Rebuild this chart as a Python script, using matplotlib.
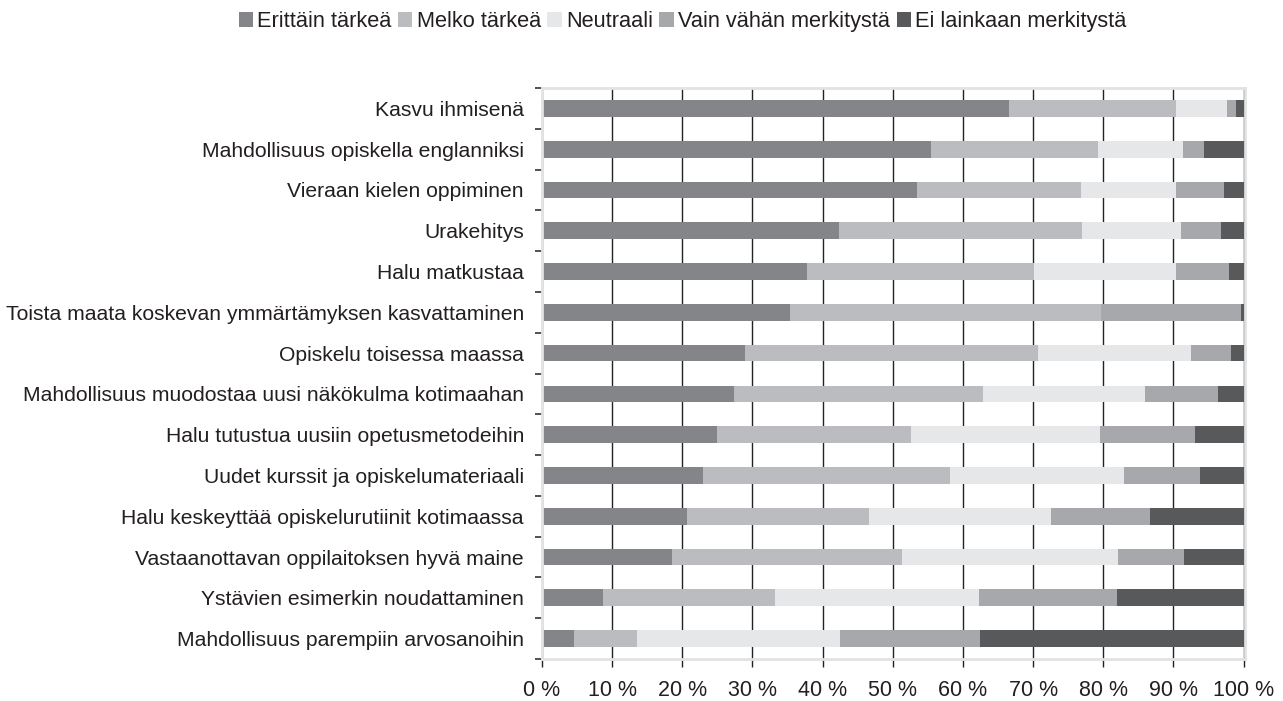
import numpy as np
import matplotlib
matplotlib.use('Agg')
import matplotlib.pyplot as plt
from matplotlib import font_manager

names = set(f.name for f in font_manager.fontManager.ttflist)
if 'Liberation Sans Narrow' in names:
    plt.rcParams['font.family'] = 'Liberation Sans Narrow'
else:
    plt.rcParams['font.family'] = 'Liberation Sans'

categories = ['Kasvu ihmisenä',
              'Mahdollisuus opiskella englanniksi',
              'Vieraan kielen oppiminen',
              'Urakehitys',
              'Halu matkustaa',
              'Toista maata koskevan ymmärtämyksen kasvattaminen',
              'Opiskelu toisessa maassa',
              'Mahdollisuus muodostaa uusi näkökulma kotimaahan',
              'Halu tutustua uusiin opetusmetodeihin',
              'Uudet kurssit ja opiskelumateriaali',
              'Halu keskeyttää opiskelurutiinit kotimaassa',
              'Vastaanottavan oppilaitoksen hyvä maine',
              'Ystävien esimerkin noudattaminen',
              'Mahdollisuus parempiin arvosanoihin']

series = ['Erittäin tärkeä', 'Melko tärkeä', 'Neutraali',
          'Vain vähän merkitystä', 'Ei lainkaan merkitystä']

erittain = [66.6, 55.4, 53.4, 42.4, 37.8, 35.4, 29.0, 27.4, 25.0, 23.0, 20.7, 18.5, 8.7, 4.6]
melko = [23.7, 23.9, 23.4, 34.5, 32.3, 44.3, 41.7, 35.5, 27.6, 35.1, 25.9, 32.8, 24.5, 9.0]
neutraali = [7.3, 12.1, 13.5, 14.2, 20.2, 0.0, 21.8, 23.1, 26.9, 24.8, 26.0, 30.8, 29.1, 28.9]
vain_vahan = [1.3, 3.0, 6.9, 5.7, 7.6, 19.9, 5.7, 10.4, 13.6, 10.9, 14.1, 9.4, 19.6, 19.9]
ei_lainkaan = [1.1, 5.6, 2.8, 3.2, 2.1, 0.4, 1.8, 3.6, 6.9, 6.2, 13.3, 8.5, 18.1, 37.6]

colors = ['#848589', '#bbbcbf', '#e6e7e8', '#a7a8ab', '#58595b']
text_color = '#231f20'

values = np.array([erittain, melko, neutraali, vain_vahan, ei_lainkaan])
y = np.arange(len(categories))

fig = plt.figure(figsize=(12.83, 7.01), dpi=100)
ax = fig.add_axes([542/1283, 1 - 659/701, 703/1283, 571/701])

left = np.zeros(len(categories))
for vals, name, c in zip(values, series, colors):
    ax.barh(y, vals, left=left, height=0.41, color=c, label=name, zorder=2)
    left += vals

ax.set_xlim(0, 100.2)
ax.set_ylim(len(categories) - 0.5, -0.5)
ax.set_xticks(np.arange(0, 101, 10))
ax.set_xticklabels(['{} %'.format(t) for t in range(0, 101, 10)])
ax.set_yticks(y)
ax.set_yticklabels(categories)
ax.set_yticks(np.arange(-0.5, len(categories), 1), minor=True)
ax.tick_params(axis='y', which='major', length=0, pad=13, labelsize=15.2, labelcolor=text_color)
ax.tick_params(axis='y', which='minor', length=5, width=1.2, color='#333333')
ax.tick_params(axis='x', length=6, width=1, color='#222222', pad=9, labelsize=15.5, labelcolor=text_color)
ax.grid(axis='x', color='#222222', linewidth=1, zorder=1)
ax.set_axisbelow(True)
for s in ax.spines.values():
    s.set_color('#e2e2e2')
    s.set_linewidth(2)

fig.legend(loc='upper center', bbox_to_anchor=(0.532, 1.012), ncol=5, frameon=False,
           fontsize=15.7, handlelength=0.65, handleheight=0.65, handletextpad=0.2,
           columnspacing=0.3, labelcolor=text_color)

fig.savefig('out.png', dpi=100)
